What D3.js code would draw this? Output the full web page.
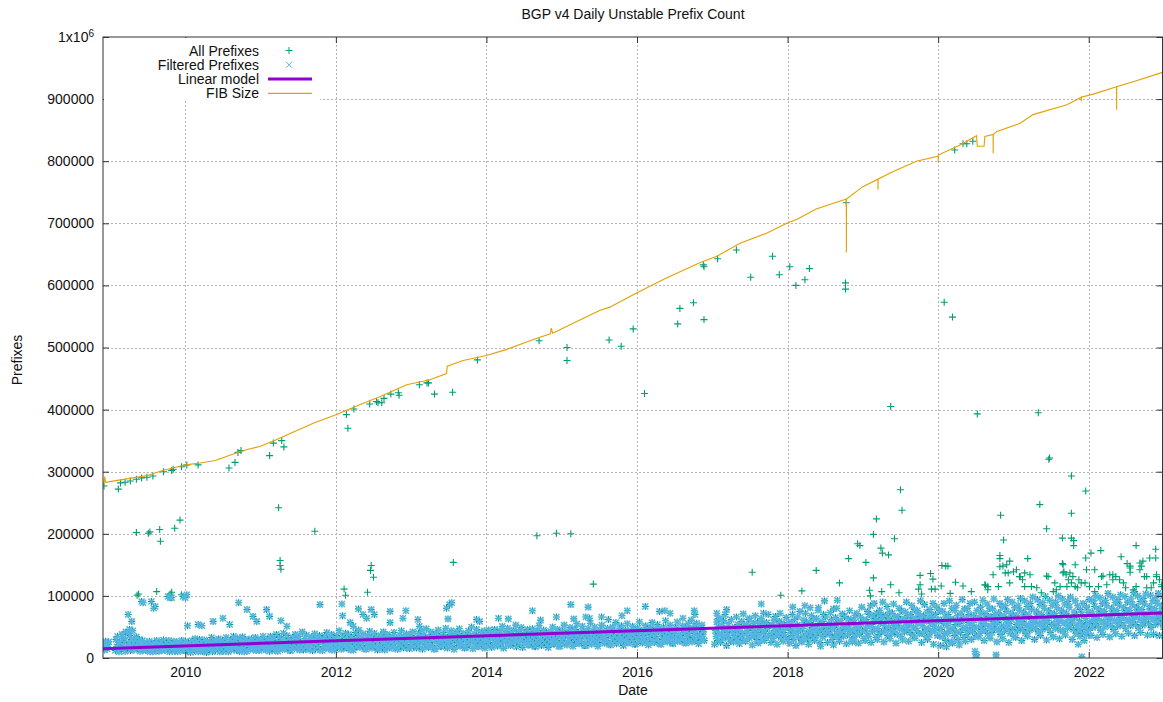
<!DOCTYPE html>
<html>
<head>
<meta charset="utf-8">
<script src="https://cdn.jsdelivr.net/npm/d3@7"></script>
<style>
  body { margin: 0; background: #fff; }
  svg { font-family: "Liberation Sans", Arial, sans-serif; }
</style>
</head>
<body>
<script>
const width = 1163;
const height = 702;
const margin = {left: 103, right: 0.5, top: 37, bottom: 44};

// values are in thousands of prefixes, x is decimal year
const xTicks = [2010, 2012, 2014, 2016, 2018, 2020, 2022];
const yTicks = [0, 100, 200, 300, 400, 500, 600, 700, 800, 900, 1000];

const fibSize = [
  [2008.907,280],[2008.92,283],[2008.93,292],[2008.94,283],[2009.1,286],[2009.3,290],[2009.5,294],
  [2009.7,302],[2009.9,308],[2010.0,311],[2010.2,314],[2010.4,318],[2010.6,327],[2010.8,335],
  [2011.0,341],[2011.2,351],[2011.46,365],[2011.7,378],[2012.01,392],[2012.3,407],[2012.59,421],
  [2012.94,440],[2013.25,448],[2013.47,458],[2013.48,470],[2013.69,479],[2014.0,487],[2014.27,497],
  [2014.67,515],[2014.85,522],[2014.86,531],[2014.88,523],[2015.2,542],[2015.51,560],[2015.64,565],
  [2016.0,588],[2016.39,612],[2016.84,637],[2017.06,647],[2017.37,668],[2017.72,684],[2017.99,700],
  [2018.12,706],[2018.38,723],[2018.78,739],[2018.781,653],[2018.782,739],[2019.0,759],[2019.2,771],
  [2019.201,754],[2019.202,771],[2019.36,781],[2019.71,800],[2020.0,808],[2020.001,798],[2020.002,810],
  [2020.29,826],[2020.51,841],[2020.52,824],[2020.61,824],[2020.62,840],[2020.73,843],[2020.731,813],
  [2020.732,843],[2020.78,848],[2021.09,861],[2021.26,875],[2021.71,891],[2021.84,899],[2021.90,903],
  [2021.901,896],[2021.902,903],[2022.06,908],[2022.37,920],[2022.371,883],[2022.372,920],
  [2022.59,928],[2022.98,943]
];

const linearModel = [[2008.907,15],[2022.98,72.4]];

// daily filtered counts, one row per month: [start, samples...]
const filteredDaily = [
  [2008.91,18,24,13,27,20,15,22,26],
  [2009.07,12,30,18,35,22,10,26,16],[2009.15,14,38,20,32,25,11,42,17],[2009.23,16,40,24,36,12,30,20,44],
  [2009.32,13,28,20,34,15,25,18,30],[2009.40,11,22,17,28,14,25,19,13],[2009.48,12,24,16,21,27,10,19,23],
  [2009.57,10,20,25,14,18,28,12,22],[2009.65,11,23,17,26,13,20,29,15],[2009.73,12,19,25,15,22,28,10,18],
  [2009.82,13,24,18,27,11,21,16,25],[2009.90,10,22,26,15,19,28,13,20],[2009.98,12,20,27,16,23,11,25,18],
  [2010.07,9,21,28,15,24,12,31,18],[2010.15,14,26,10,22,30,17,12,25],[2010.23,11,19,29,16,24,9,27,21],
  [2010.32,13,25,18,33,10,22,16,28],[2010.40,12,20,27,15,31,18,10,24],[2010.48,14,29,19,11,25,22,33,16],
  [2010.57,10,23,17,30,13,26,20,35],[2010.65,15,21,28,12,32,18,24,11],[2010.73,13,27,19,34,16,10,24,30],
  [2010.82,11,22,29,17,25,14,31,20],[2010.90,14,18,26,33,12,23,29,16],[2010.98,12,24,30,17,21,35,14,27],
  [2011.07,13,22,31,17,26,11,35,20],[2011.15,15,28,19,33,12,24,38,18],[2011.23,11,25,34,17,29,21,14,40],
  [2011.32,14,20,27,36,16,31,23,12],[2011.40,12,26,18,33,22,15,38,28],[2011.48,16,29,21,35,13,25,19,42],
  [2011.57,13,24,31,17,37,22,14,28],[2011.65,15,27,20,34,12,30,24,39],[2011.73,14,22,32,18,26,36,13,29],
  [2011.82,12,28,19,35,24,16,41,30],[2011.90,15,25,33,20,38,13,28,22],[2011.98,13,30,21,36,17,26,44,19],
  [2012.07,14,27,35,19,31,23,40,16],[2012.15,16,24,38,21,29,13,34,27],[2012.23,13,30,22,41,18,26,36,45],
  [2012.32,17,25,33,20,39,28,15,31],[2012.40,14,29,37,22,26,43,18,33],[2012.48,16,23,31,40,19,27,35,13],
  [2012.57,15,28,21,36,32,17,42,25],[2012.65,13,31,24,38,20,27,16,34],[2012.73,18,26,35,22,41,29,15,32],
  [2012.82,14,30,23,37,19,44,27,33],[2012.90,16,25,33,21,39,28,17,36],[2012.98,15,29,36,22,42,18,31,26],
  [2013.07,16,31,24,40,19,35,28,45],[2013.15,14,27,37,22,33,47,18,30],[2013.23,17,33,25,42,29,20,38,14],
  [2013.32,15,30,39,23,45,27,35,19],[2013.40,18,26,34,41,21,31,48,24],[2013.48,16,32,23,38,28,44,19,36],
  [2013.57,14,29,37,25,42,33,20,47],[2013.65,19,27,35,22,40,30,16,38],[2013.73,17,33,26,44,21,36,29,50],
  [2013.82,15,30,39,24,35,46,19,28],[2013.90,18,25,33,41,22,37,29,44],[2013.98,16,31,27,38,23,45,34,20],
  [2014.07,17,32,40,25,46,29,36,21],[2014.15,19,28,37,44,23,33,51,27],[2014.23,16,35,26,42,30,48,21,38],
  [2014.32,20,31,39,24,45,34,28,53],[2014.40,18,27,36,43,22,32,49,30],[2014.48,17,34,25,41,37,29,46,21],
  [2014.57,21,30,38,26,47,33,42,19],[2014.65,18,36,28,44,31,52,24,39],[2014.73,20,29,37,45,25,34,41,22],
  [2014.82,17,33,26,43,38,30,50,23],[2014.90,22,31,40,27,46,35,19,42],[2014.98,19,35,28,44,32,53,24,38],
  [2015.07,21,34,42,28,49,36,25,45],[2015.15,19,38,30,46,33,55,24,41],[2015.23,23,32,40,27,51,37,44,20],
  [2015.32,20,36,29,47,39,33,56,26],[2015.40,22,31,43,35,50,28,40,24],[2015.48,19,37,30,45,41,53,25,34],
  [2015.57,24,33,42,28,48,38,22,46],[2015.65,21,39,31,50,35,44,27,57],[2015.73,23,30,41,36,47,26,52,33],
  [2015.82,20,37,29,45,40,55,24,35],[2015.90,25,34,43,30,51,38,46,22],[2015.98,22,40,32,48,36,58,27,43],
  [2016.07,24,36,45,30,52,40,27,48],[2016.15,21,41,33,49,38,57,26,44],[2016.23,25,35,46,31,54,42,48,23],
  [2016.32,22,39,30,50,43,36,60,28],[2016.40,26,34,47,38,53,31,44,24],[2016.48,23,40,33,49,45,58,27,37],
  [2016.57,27,36,46,31,52,41,25,50],[2016.65,24,42,34,55,39,48,29,61],[2016.73,26,33,45,40,51,28,56,36],
  [2016.82,23,38,47,30,53,35,42,28],
  [2017.03,22,44,35,58,28,50,39,64],[2017.11,25,38,52,31,60,45,70,34],[2017.19,20,41,55,33,48,27,62,43],
  [2017.28,26,36,50,44,66,30,54,39],[2017.36,23,47,34,59,40,71,28,52],[2017.44,27,39,53,45,62,32,49,36],
  [2017.53,21,44,56,35,68,41,30,58],[2017.61,24,37,51,46,63,29,55,40],[2017.69,28,43,34,57,48,70,36,52],
  [2017.78,25,39,53,31,61,45,67,38],[2017.86,22,48,36,59,42,33,55,46],[2017.94,27,41,54,35,65,49,30,57],
  [2018.03,24,45,58,36,70,50,30,62,42],[2018.11,20,39,53,66,33,48,75,44,28],[2018.19,26,47,35,61,54,72,40,57,31],
  [2018.28,22,43,57,38,68,49,33,63,46],[2018.36,28,51,36,64,45,77,41,55,25],[2018.44,19,46,59,34,70,52,39,66,48],
  [2018.53,25,42,55,38,73,47,62,30,51],[2018.61,21,49,36,65,54,80,43,58,33],[2018.69,27,44,60,39,71,50,35,67,46],
  [2018.78,23,52,37,63,48,76,42,58,29],[2018.86,26,45,61,34,69,53,40,72,49],[2018.94,24,50,38,66,56,82,44,60,31],
  [2019.03,28,48,62,40,75,55,35,70,52,84],[2019.11,25,54,43,68,59,88,46,64,33,72],[2019.19,30,47,61,38,77,56,70,42,65,90],
  [2019.28,26,52,44,69,58,83,36,63,49,74],[2019.36,31,46,60,40,72,55,87,43,66,51],[2019.44,24,53,38,67,59,80,47,62,35,76],
  [2019.53,29,49,63,42,74,57,90,45,68,53],[2019.61,27,55,41,70,60,84,37,64,50,78],[2019.69,32,48,62,44,76,56,71,39,67,92],
  [2019.78,25,52,40,68,59,86,46,63,34,74],[2019.86,30,47,61,37,78,55,69,43,65,88],[2019.94,22,51,44,70,58,82,36,62,48,76],
  [2020.03,20,46,60,34,75,55,88,40,66,28],[2020.11,18,52,39,70,58,92,45,63,26,80],[2020.19,24,48,62,36,77,54,85,42,68,30],
  [2020.28,21,55,41,72,60,94,47,65,33,79],[2020.36,27,49,63,38,80,57,70,44,88,52],[2020.44,30,53,42,69,61,90,48,64,36,76],
  [2020.53,34,50,65,40,82,58,72,46,93,55],[2020.61,28,56,44,71,63,87,39,67,51,80],[2020.69,32,51,66,41,79,59,95,47,70,55],
  [2020.78,26,57,45,73,62,88,38,68,50,82],[2020.86,31,52,67,43,84,60,75,48,94,56],[2020.94,25,55,40,72,63,90,46,69,35,81],
  [2021.03,33,54,68,44,85,61,77,49,96,58],[2021.11,28,59,46,74,65,92,40,70,53,83],[2021.19,35,53,69,45,88,62,78,50,98,57],
  [2021.28,30,58,47,75,66,94,42,71,55,86],[2021.36,36,55,70,46,89,63,80,51,99,60],[2021.44,29,60,48,76,67,93,41,72,54,85],
  [2021.53,34,56,71,47,90,64,81,52,100,59],[2021.61,31,61,45,77,68,95,43,73,56,87],[2021.69,37,57,72,48,91,65,82,53,98,61],
  [2021.78,30,58,46,74,66,92,40,70,52,84],[2021.86,22,45,60,35,78,55,70,40,88,50],[2021.94,28,50,64,38,82,57,73,45,94,55],
  [2022.03,36,60,74,49,92,67,83,55,100,64],[2022.11,33,63,51,79,70,97,45,75,58,88],[2022.19,38,59,75,50,93,68,84,56,104,62],
  [2022.28,34,64,52,80,71,98,46,76,60,89],[2022.36,39,60,76,51,94,69,85,57,102,65],[2022.44,35,65,53,81,72,99,47,77,61,90],
  [2022.53,40,61,77,52,95,70,86,58,105,66],[2022.61,36,66,54,82,73,100,48,78,62,91],[2022.69,41,62,78,53,96,71,87,59,103,67],
  [2022.78,37,67,55,83,74,101,49,79,63,92],[2022.86,38,63,79,54,97,72,88,60,104,68],[2022.94,36,64,56,84,75,99,50,80,62,90]
];

// filtered days that stand out from the band
const filteredOutliers = [
  [2009.24,70],[2009.26,46],[2009.29,59],[2009.42,91],[2009.44,89],[2009.55,91],[2009.58,80],[2009.60,83],
  [2009.77,99],[2009.80,97],[2009.82,97],[2009.97,99],[2010.0,97],[2010.02,102],[2010.03,52],[2010.17,54],
  [2010.22,52],[2010.37,59],[2010.50,64],[2010.59,54],[2010.71,89],[2010.82,78],[2010.90,67],[2010.95,59],
  [2011.08,78],[2011.12,67],[2011.27,60],[2011.35,51],[2011.79,86],[2012.08,87],[2012.09,68],[2012.30,79],
  [2012.36,70],[2012.41,64],[2012.47,78],[2012.51,70],[2012.19,57],[2012.23,51],[2012.72,75],[2012.72,57],
  [2012.89,64],[2012.93,76],[2013.09,62],[2013.11,51],[2013.47,80],[2013.51,86],[2013.54,89],[2013.49,63],
  [2013.87,62],[2013.91,59],[2014.16,64],[2014.29,63],[2014.61,76],[2014.72,61],[2014.93,66],[2015.12,86],
  [2015.16,63],[2015.35,82],[2015.32,66],[2015.37,64],[2015.53,66],[2015.62,62],[2015.80,68],[2015.87,76],
  [2016.11,83],[2016.30,75],[2016.37,76],[2016.44,72],[2016.61,64],[2016.76,76],[2016.77,70],[2017.06,72],
  [2017.08,63],[2017.19,78],[2017.50,64],[2017.65,87],[2017.68,72],[2017.90,72],[2018.07,82],[2018.23,84],
  [2018.30,81],[2018.41,81],[2018.49,92],[2018.66,93],[2018.61,79],
  [2020.49,11],[2020.51,5],[2020.50,1],[2020.77,5],[2021.91,2]
];

// days only in "All Prefixes" (removed by the filter)
const allOutliers = [
  [2008.92,277],[2009.11,272],[2009.14,282],[2009.20,283],[2009.27,285],[2009.35,288],[2009.42,290],[2009.49,291],
  [2009.57,293],[2009.71,300],[2009.82,302],[2009.84,304],[2009.95,308],[2010.02,311],[2010.17,311],[2010.58,306],
  [2010.66,315],[2010.70,331],[2010.74,334],[2011.12,326],[2011.17,346],[2011.28,350],[2011.31,340],
  [2012.14,392],[2012.16,370],[2012.24,401],[2012.45,409],[2012.54,413],[2012.56,411],[2012.61,411],[2012.64,418],
  [2012.73,425],[2012.83,427],[2012.84,423],[2013.11,440],[2013.21,443],[2013.23,443],[2013.31,425],[2013.55,428],
  [2013.88,480],[2014.70,511],[2015.07,500],[2015.07,479],[2015.63,512],[2015.79,502],[2015.95,530],[2016.10,426],
  [2016.54,538],[2016.57,563],[2016.75,572],[2016.89,545],[2016.88,633],[2016.89,630],[2017.07,643],[2017.32,657],
  [2017.51,613],[2017.80,647],[2017.89,617],[2018.03,630],[2018.11,600],[2018.23,609],[2018.29,627],[2018.77,604],
  [2018.77,594],[2018.78,733],[2019.37,405],[2020.08,573],[2020.19,549],[2020.22,818],[2020.33,828],[2020.38,828],
  [2020.46,832],[2020.52,393],[2021.33,395],[2021.47,320],[2021.48,322],
  [2009.35,202],[2009.51,201],[2009.53,203],[2009.66,207],[2009.67,188],[2009.86,209],[2009.93,222],[2011.24,242],
  [2011.26,157],[2011.26,149],[2011.27,143],[2011.72,204],[2012.46,141],[2012.47,149],[2012.50,130],[2013.56,154],
  [2014.67,197],[2014.93,201],[2015.12,200],[2019.50,271],[2019.52,238],[2019.18,224],[2019.14,199],[2019.42,192],
  [2019.24,177],[2019.26,169],[2019.34,166],[2018.93,184],[2018.96,181],[2018.81,160],[2019.04,154],[2020.83,230],
  [2020.87,190],[2020.82,165],[2020.82,160],[2020.95,156],[2021.19,160],[2021.35,247],[2021.44,208],[2021.65,193],
  [2021.77,293],[2021.77,233],[2021.77,193],[2021.80,189],[2021.80,181],[2021.96,269],[2021.96,161],[2022.03,169],
  [2022.16,173],[2022.43,163],[2022.63,181],[2022.81,161],[2022.89,175],
  [2009.36,101],[2009.38,103],[2009.62,107],[2009.80,103],[2009.82,106],[2009.95,102],[2012.11,111],[2012.13,101],
  [2012.42,106],[2015.42,119],[2017.53,138],[2017.91,101],[2018.19,108],[2018.38,141],[2018.69,121],[2019.09,109],
  [2019.10,100],[2019.14,129],[2019.25,107],[2019.37,118],[2019.48,105],[2019.74,111],[2019.76,118],[2019.76,133],
  [2019.78,103],[2019.90,136],[2019.91,111],[2019.93,127],[2019.96,111],[2020.04,116],[2020.05,149],[2020.10,148],
  [2020.13,148],[2020.16,104],[2020.23,122],[2020.33,116],[2020.44,107],
  [2020.62,118],[2020.63,117],[2020.66,110],[2020.66,115],[2020.73,134],[2020.80,115],[2020.82,147],[2020.86,148],
  [2020.89,137],[2020.91,150],[2020.93,137],[2020.95,121],[2021.00,139],[2021.04,142],[2021.08,131],[2021.09,131],
  [2021.12,126],[2021.15,137],[2021.15,115],[2021.22,134],[2021.24,115],[2021.31,113],[2021.37,105],[2021.44,132],
  [2021.46,131],[2021.53,107],[2021.55,121],[2021.57,110],[2021.62,115],[2021.65,152],[2021.66,150],[2021.66,137],
  [2021.67,139],[2021.70,134],[2021.71,115],[2021.73,126],[2021.75,137],[2021.77,121],[2021.79,131],[2021.82,150],
  [2021.82,115],[2021.85,113],[2021.87,126],[2021.90,121],[2021.95,121],[2021.97,142],[2022.01,115],[2022.08,142],
  [2022.08,107],[2022.13,115],[2022.17,131],[2022.19,132],[2022.24,118],[2022.28,134],[2022.32,126],[2022.32,134],
  [2022.36,131],[2022.41,126],[2022.46,121],[2022.49,113],[2022.51,152],[2022.55,148],[2022.55,138],[2022.55,145],
  [2022.59,110],[2022.61,107],[2022.63,115],[2022.68,142],[2022.68,153],[2022.70,148],[2022.72,156],[2022.74,131],
  [2022.77,113],[2022.77,131],[2022.83,113],[2022.86,121],[2022.89,161],[2022.90,131],[2022.90,134],[2022.94,126],
  [2022.97,115],[2022.97,118]
];

// spread each month's samples over the days of that month
const filtered = [];
filteredDaily.forEach((row, i) => {
  const start = row[0], vals = row.slice(1);
  const next = i < filteredDaily.length - 1 ? filteredDaily[i + 1][0] : start + 1 / 12;
  const span = Math.min(next - start, 1 / 12);
  vals.forEach((v, j) => filtered.push([start + span * j / vals.length, v]));
});
filteredOutliers.forEach(d => filtered.push(d));
const allPrefixes = filtered.concat(allOutliers);

const svg = d3.select("body").append("svg").attr("width", width).attr("height", height);

const x = d3.scaleLinear().domain([2008.907, 2022.98]).range([margin.left, width - margin.right]);
const y = d3.scaleLinear().domain([0, 1000]).range([height - margin.bottom, margin.top]);

svg.append("defs").append("clipPath").attr("id", "plotclip")
  .append("rect").attr("x", x.range()[0]).attr("y", y.range()[1])
  .attr("width", x.range()[1] - x.range()[0]).attr("height", y.range()[0] - y.range()[1]);

// grid
const grid = svg.append("g").attr("stroke", "#b4b4b4").attr("stroke-dasharray", "2,2").attr("stroke-width", 1);
grid.selectAll(".gx").data(xTicks).enter().append("line")
  .attr("x1", d => Math.round(x(d)) + 0.5).attr("x2", d => Math.round(x(d)) + 0.5)
  .attr("y1", y(1000)).attr("y2", y(0));
grid.selectAll(".gy").data(yTicks.filter(d => d > 0 && d < 1000)).enter().append("line")
  .attr("y1", d => Math.round(y(d)) + 0.5).attr("y2", d => Math.round(y(d)) + 0.5)
  .attr("x1", x.range()[0]).attr("x2", x.range()[1]);

const plot = svg.append("g").attr("clip-path", "url(#plotclip)");

const plusPath = "M-3.5,0H3.5M0,-3.5V3.5";
const crossPath = "M-3,-3L3,3M-3,3L3,-3";

plot.append("g").selectAll("path").data(allPrefixes).enter().append("path")
  .attr("d", plusPath)
  .attr("transform", d => `translate(${x(d[0]).toFixed(1)},${y(d[1]).toFixed(1)})`)
  .attr("stroke", "#009e73").attr("stroke-width", 1.1).attr("fill", "none");

plot.append("g").selectAll("path").data(filtered).enter().append("path")
  .attr("d", crossPath)
  .attr("transform", d => `translate(${x(d[0]).toFixed(1)},${y(d[1]).toFixed(1)})`)
  .attr("stroke", "#56b4e9").attr("stroke-width", 1.6).attr("fill", "none");

const line = d3.line().x(d => x(d[0])).y(d => y(d[1]));

plot.append("path").datum(linearModel).attr("d", line)
  .attr("stroke", "#9400d3").attr("stroke-width", 3).attr("fill", "none");

plot.append("path").datum(fibSize).attr("d", line)
  .attr("stroke", "#e69f00").attr("stroke-width", 1.1).attr("fill", "none");

// axes with inward ticks, mirrored on top and right
const bottomAxis = svg.append("g").attr("transform", `translate(0,${y(0)})`)
  .call(d3.axisBottom(x).tickValues(xTicks).tickFormat(d3.format("d")).tickSize(-6).tickPadding(9));
const topAxis = svg.append("g").attr("transform", `translate(0,${y(1000)})`)
  .call(d3.axisTop(x).tickValues(xTicks).tickFormat("").tickSize(-6));
const leftAxis = svg.append("g").attr("transform", `translate(${x.range()[0]},0)`)
  .call(d3.axisLeft(y).tickValues(yTicks).tickFormat(d => d === 1000 ? "1x10" : d * 1000).tickSize(-6).tickPadding(9));
const rightAxis = svg.append("g").attr("transform", `translate(${x.range()[1]},0)`)
  .call(d3.axisRight(y).tickValues(yTicks).tickFormat("").tickSize(-6));

[bottomAxis, topAxis, leftAxis, rightAxis].forEach(a => {
  a.select(".domain").remove();
  a.selectAll(".tick line").attr("stroke", "#333");
  a.selectAll("text").attr("font-size", 14).attr("fill", "#111")
    .attr("font-family", "'Liberation Sans', Arial, sans-serif");
});
leftAxis.selectAll(".tick").filter(d => d === 1000).select("text")
  .append("tspan").attr("dy", "-0.5em").attr("font-size", 10).text("6");

svg.append("rect")
  .attr("x", x.range()[0]).attr("y", y(1000))
  .attr("width", x.range()[1] - x.range()[0]).attr("height", y(0) - y(1000))
  .attr("fill", "none").attr("stroke", "#333").attr("stroke-width", 1);

// legend (opaque key)
const legend = svg.append("g");
legend.append("rect").attr("x", x.range()[0] + 1).attr("y", y(1000) + 1)
  .attr("width", 216).attr("height", 63).attr("fill", "#fff");

const keys = [
  {label: "All Prefixes", type: "plus", color: "#009e73"},
  {label: "Filtered Prefixes", type: "cross", color: "#56b4e9"},
  {label: "Linear model", type: "line", color: "#9400d3", w: 3},
  {label: "FIB Size", type: "line", color: "#e69f00", w: 1.2}
];
keys.forEach((k, i) => {
  const cy = 50.5 + i * 14.3;
  legend.append("text").attr("x", 259).attr("y", cy + 5).attr("text-anchor", "end")
    .attr("font-size", 14).attr("fill", "#111").text(k.label);
  if (k.type === "line") {
    legend.append("line").attr("x1", 268).attr("x2", 312).attr("y1", cy).attr("y2", cy)
      .attr("stroke", k.color).attr("stroke-width", k.w);
  } else {
    legend.append("path").attr("d", k.type === "plus" ? plusPath : crossPath)
      .attr("transform", `translate(289,${cy})`).attr("stroke", k.color).attr("fill", "none");
  }
});

// titles
svg.append("text").attr("x", 633).attr("y", 19).attr("text-anchor", "middle")
  .attr("font-size", 14).attr("fill", "#111").text("BGP v4 Daily Unstable Prefix Count");
svg.append("text").attr("x", 633).attr("y", 695).attr("text-anchor", "middle")
  .attr("font-size", 14).attr("fill", "#111").text("Date");
svg.append("text").attr("transform", "translate(22,360) rotate(-90)").attr("text-anchor", "middle")
  .attr("font-size", 14).attr("fill", "#111").text("Prefixes");
</script>
</body>
</html>
